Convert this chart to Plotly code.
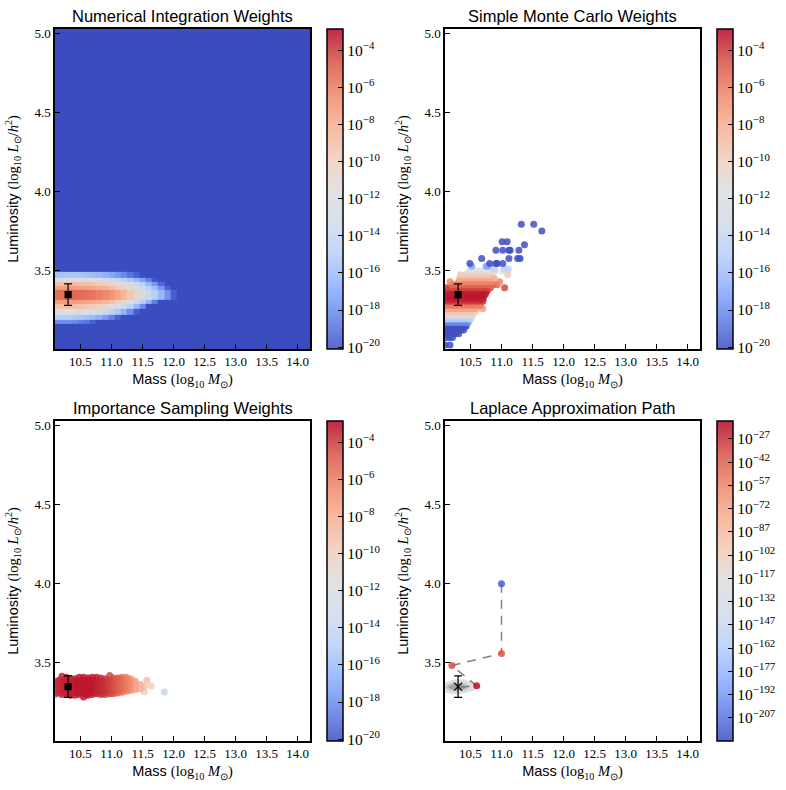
import plotly.graph_objects as go

W, H = 786, 790

TITLES = ["Numerical Integration Weights", "Simple Monte Carlo Weights",
          "Importance Sampling Weights", "Laplace Approximation Path"]
X_TICKS = [10.5, 11.0, 11.5, 12.0, 12.5, 13.0, 13.5, 14.0]
Y_TICKS = [3.5, 4.0, 4.5, 5.0]
WEIGHT_TICKS = [-4, -6, -8, -10, -12, -14, -16, -18, -20]
PATH_TICKS = [-27, -42, -57, -72, -87, -102, -117, -132, -147, -162, -177, -192, -207]
TRUE_MASS, TRUE_LUM, TRUE_ERR = 10.3, 3.35, 0.068

# Numerical integration grid (log10 weight)
GRID_MASS_EDGES = [10.05, 10.15, 10.25, 10.35, 10.45, 10.55, 10.65, 10.75, 10.85, 10.95, 11.05,
                   11.15, 11.25, 11.35, 11.45, 11.55, 11.65, 11.75, 11.85, 11.95, 12.05, 14.3]
GRID_LUM_EDGES = [3.0, 3.163, 3.19, 3.222, 3.26, 3.289, 3.315, 3.378, 3.403, 3.428, 3.454, 3.492, 5.05]
GRID_BG = -20.5
GRID_ROWS = [
    [],
    [-17.8, -17.8, -17.9, -18.1, -18.4, -18.8, -19.4],
    [-15, -15, -15, -15.2, -15.4, -15.7, -16.1, -16.7, -17.4, -18.3, -19.4],
    [-11.6, -11.5, -11.5, -11.6, -11.8, -12, -12.4, -12.9, -13.5, -14.3, -15.3, -16.5, -17.9, -19.6],
    [-9.2, -9.1, -9.1, -9.2, -9.3, -9.5, -9.8, -10.2, -10.8, -11.5, -12.4, -13.5, -14.8, -16.3, -18, -20.2],
    [-7.4, -7.3, -7.3, -7.3, -7.4, -7.6, -7.8, -8.1, -8.6, -9.2, -10, -10.9, -12, -13.2, -14.6, -16.4, -18.5],
    [-5.6, -5.5, -5.4, -5.4, -5.5, -5.6, -5.8, -6.1, -6.5, -7.0, -7.7, -8.5, -9.6, -10.8, -12.2, -13.6, -14.9, -16.2, -17.8, -19.5],
    [-7.6, -7.5, -7.4, -7.4, -7.5, -7.6, -7.8, -8.1, -8.5, -9, -9.6, -10.3, -11.2, -12.2, -13.4, -14.6, -16, -17.6, -19.4],
    [-9.2, -9.1, -9, -9, -9.1, -9.2, -9.5, -9.8, -10.2, -10.7, -11.3, -12, -12.8, -13.8, -14.9, -16.2, -17.6, -19.2],
    [-11.8, -11.7, -11.6, -11.6, -11.7, -11.9, -12.1, -12.4, -12.8, -13.3, -13.9, -14.6, -15.4, -16.3, -17.3, -18.5, -19.8],
    [-15.6, -15.5, -15.4, -15.4, -15.5, -15.7, -15.9, -16.2, -16.6, -17, -17.5, -18.1, -18.8, -19.5],
    [],
]

# Simple Monte Carlo samples, grouped as (log10 weight, luminosity, masses)
MC_GROUPS = [
    (-20, 3.032, [10.09, 10.17]),
    (-20, 3.078, [10.11, 10.16, 10.21]),
    (-20, 3.102, [10.1, 10.15, 10.2, 10.26, 10.31]),
    (-20, 3.126, [10.11, 10.17, 10.23, 10.29, 10.35, 10.39]),
    (-20, 3.15, [10.1, 10.16, 10.22, 10.28, 10.34, 10.4, 10.43]),
    (-18, 3.174, [10.12, 10.18, 10.24, 10.3, 10.36, 10.42, 10.46]),
    (-15, 3.195, [10.1, 10.16, 10.22, 10.28, 10.34, 10.4, 10.46, 10.5]),
    (-12, 3.215, [10.12, 10.18, 10.25, 10.32, 10.39, 10.46, 10.53]),
    (-9.5, 3.238, [10.1, 10.16, 10.23, 10.3, 10.37, 10.44, 10.51, 10.57]),
    (-7.5, 3.26, [10.11, 10.18, 10.25, 10.32, 10.39, 10.46, 10.53, 10.6, 10.7]),
    (-5.8, 3.283, [10.1, 10.17, 10.24, 10.31, 10.38, 10.45, 10.52, 10.59, 10.66]),
    (-4.0, 3.308, [10.1, 10.16, 10.22, 10.28, 10.34, 10.4, 10.46, 10.52, 10.58, 10.64, 10.7]),
    (-3.6, 3.32, [10.13, 10.2, 10.27, 10.34, 10.41, 10.48, 10.55, 10.62, 10.69]),
    (-3.4, 3.33, [10.11, 10.17, 10.23, 10.29, 10.35, 10.41, 10.47, 10.53, 10.59, 10.65, 10.71]),
    (-3.3, 3.342, [10.14, 10.2, 10.26, 10.32, 10.38, 10.44, 10.5, 10.56, 10.62, 10.68]),
    (-3.3, 3.352, [10.1, 10.16, 10.22, 10.28, 10.34, 10.4, 10.46, 10.52, 10.58, 10.64, 10.7, 10.74]),
    (-3.3, 3.363, [10.13, 10.19, 10.25, 10.31, 10.37, 10.43, 10.49, 10.55, 10.61, 10.67, 10.73]),
    (-3.4, 3.373, [10.11, 10.17, 10.23, 10.29, 10.35, 10.41, 10.47, 10.53, 10.59, 10.65, 10.71, 10.77]),
    (-4.3, 3.393, [10.1, 10.16, 10.22, 10.28, 10.34, 10.4, 10.46, 10.52, 10.58, 10.64, 10.7, 10.76, 10.82, 11.05]),
    (-5.3, 3.412, [10.21, 10.27, 10.33, 10.39, 10.45, 10.51, 10.57, 10.63, 10.69, 10.75, 10.81, 10.87, 10.93]),
    (-6.4, 3.432, [10.17, 10.31, 10.37, 10.43, 10.49, 10.55, 10.61, 10.67, 10.73, 10.79, 10.85, 10.97]),
    (-8, 3.455, [10.33, 10.4, 10.47, 10.54, 10.61, 10.68, 10.75, 10.82, 10.88]),
    (-9.5, 3.475, [10.34, 10.42, 10.5, 10.58, 10.66, 10.74, 10.82, 11.1]),
    (-11.5, 3.5, [10.48, 10.56, 10.64, 10.72, 10.8, 10.9, 11.02]),
    (-14.5, 3.512, [10.88, 11.05, 11.11]),
    (-17, 3.53, [10.52, 10.75, 10.78]),
    (-20, 3.546, [10.49, 10.81, 10.91, 10.93, 11.02]),
    (-20, 3.578, [10.68, 11.12, 11.26, 11.3]),
    (-20, 3.63, [10.91, 11.02, 11.12, 11.14, 11.28]),
    (-20, 3.665, [11.37]),
    (-20, 3.685, [11.01, 11.09]),
    (-20, 3.753, [11.65]),
    (-20, 3.795, [11.32, 11.52]),
]

# Importance sampling samples, grouped as (log10 weight, mass, luminosities)
IS_GROUPS = [
    (-18, 10.09, [3.3, 3.37]),
    (-14, 11.85, [3.316]),
    (-10, 11.64, [3.354]),
    (-10, 11.53, [3.318]),
    (-9, 11.57, [3.39]),
    (-9, 11.53, [3.35]),
    (-8.3, 11.46, [3.365, 3.335]),
    (-7.5, 11.38, [3.33, 3.36, 3.385]),
    (-7, 11.31, [3.325, 3.35, 3.375, 3.4]),
    (-6.6, 11.275, [3.335, 3.36, 3.385]),
    (-6.3, 11.24, [3.32, 3.345, 3.37, 3.395, 3.41]),
    (-6, 11.205, [3.33, 3.355, 3.38, 3.4]),
    (-5.8, 11.17, [3.315, 3.34, 3.365, 3.39, 3.41]),
    (-5.5, 11.135, [3.325, 3.35, 3.375, 3.4]),
    (-5.2, 11.1, [3.31, 3.335, 3.36, 3.385, 3.405]),
    (-5, 11.065, [3.32, 3.345, 3.37, 3.395]),
    (-4.8, 11.03, [3.305, 3.33, 3.355, 3.38, 3.405]),
    (-4.6, 11.0, [3.315, 3.34, 3.365, 3.39]),
    (-4.4, 10.97, [3.305, 3.33, 3.355, 3.38, 3.42]),
    (-4.2, 10.935, [3.315, 3.34, 3.365, 3.39]),
    (-4.1, 10.9, [3.3, 3.325, 3.35, 3.375, 3.4]),
    (-3.9, 10.865, [3.31, 3.335, 3.36, 3.385]),
    (-3.8, 10.83, [3.3, 3.325, 3.35, 3.375, 3.405]),
    (-3.7, 10.795, [3.315, 3.34, 3.365, 3.39]),
    (-3.6, 10.76, [3.305, 3.33, 3.355, 3.38, 3.41]),
    (-3.5, 10.725, [3.315, 3.34, 3.365, 3.39]),
    (-3.4, 10.69, [3.3, 3.325, 3.35, 3.375, 3.41]),
    (-3.3, 10.655, [3.31, 3.335, 3.36, 3.39]),
    (-3.3, 10.62, [3.295, 3.32, 3.345, 3.37, 3.405]),
    (-3.3, 10.585, [3.3, 3.325, 3.35, 3.39]),
    (-3.3, 10.55, [3.285, 3.31, 3.335, 3.36, 3.385, 3.41]),
    (-3.3, 10.515, [3.315, 3.34, 3.365, 3.39]),
    (-3.3, 10.48, [3.3, 3.325, 3.35, 3.375, 3.41]),
    (-3.3, 10.445, [3.31, 3.335, 3.36, 3.385]),
    (-3.3, 10.41, [3.295, 3.32, 3.345, 3.37, 3.4]),
    (-3.3, 10.375, [3.31, 3.335, 3.36, 3.385]),
    (-3.4, 10.34, [3.295, 3.32, 3.345, 3.37, 3.4]),
    (-3.4, 10.305, [3.31, 3.335, 3.36, 3.385]),
    (-3.4, 10.27, [3.3, 3.325, 3.35, 3.375, 3.41]),
    (-3.5, 10.235, [3.31, 3.335, 3.36, 3.39]),
    (-3.6, 10.2, [3.3, 3.325, 3.35, 3.375, 3.415]),
    (-3.6, 10.165, [3.315, 3.34, 3.365, 3.39]),
    (-3.7, 10.13, [3.31, 3.335, 3.36, 3.385]),
]

# Laplace approximation path
PATH_MASS = [11.0, 11.0, 10.2, 10.6, 10.29]
PATH_LUM = [4.0, 3.56, 3.483, 3.355, 3.346]
PATH_LOGW = [-215, -38, -36, -18]
CONTOUR_OUTER_MASS = [10.0, 10.1, 10.22, 10.38, 10.54, 10.62, 10.54, 10.38, 10.22, 10.1, 10.0]
CONTOUR_OUTER_LUM = [3.345, 3.378, 3.395, 3.396, 3.378, 3.35, 3.322, 3.307, 3.3, 3.312, 3.345]
CONTOUR_MID_MASS = [10.08, 10.15, 10.28, 10.41, 10.5, 10.41, 10.28, 10.15, 10.08]
CONTOUR_MID_LUM = [3.347, 3.367, 3.378, 3.372, 3.348, 3.325, 3.317, 3.327, 3.347]
CONTOUR_INNER_MASS = [10.13, 10.2, 10.29, 10.38, 10.45, 10.38, 10.29, 10.2, 10.13]
CONTOUR_INNER_LUM = [3.347, 3.363, 3.369, 3.362, 3.347, 3.331, 3.325, 3.331, 3.347]

COOLWARM = ["#3b4cc0", "#6282ea", "#8db0fe", "#b7cff9", "#d1dae9", "#dddddd",
            "#f2cbb7", "#f7ac8e", "#ee8468", "#d65244", "#b40426"]


def rgba(hex_color, alpha):
    r, g, b = (int(hex_color[i:i + 2], 16) for i in (1, 3, 5))
    return f"rgba({r},{g},{b},{alpha})"


SOLID_SCALE = [[i / 10, c] for i, c in enumerate(COOLWARM)]
ALPHA_SCALE = [[i / 10, rgba(c, 0.85)] for i, c in enumerate(COOLWARM)]

SERIF = "Liberation Serif"
SANS = "Liberation Sans"
XMIN, XMAX, YMIN, YMAX = 10.089, 14.2, 3.006, 5.03
WMIN, WMAX = -20.1, -2.85
PMIN, PMAX = -222.0, -15.4

PANELS = [(55, 29), (445, 29), (55, 421), (445, 421)]
PANEL_W, PANEL_H = 255, 320
CB_GAP, CB_W = 17, 16

XTITLE = f'Mass <span style="font-family:{SERIF}">(log<sub>10</sub> <i>M</i><sub>⊙</sub>)</span>'
YTITLE = f'Luminosity <span style="font-family:{SERIF}">(log<sub>10</sub> <i>L</i><sub>⊙</sub>/<i>h</i><sup>2</sup>)</span>'


def power_text(v):
    return f"10<sup>−{abs(v)}</sup>"


def colorbar(i, ticks):
    px, py = PANELS[i]
    return dict(
        x=(px + PANEL_W + CB_GAP) / W, xanchor="left", xpad=0,
        y=1 - (py + PANEL_H / 2) / H, yanchor="middle", ypad=0,
        len=PANEL_H / H, lenmode="fraction", thickness=CB_W, thicknessmode="pixels",
        outlinecolor="black", outlinewidth=1.5,
        ticks="inside", ticklen=5, tickcolor="black", tickwidth=1,
        tickmode="array", tickvals=ticks, ticktext=[power_text(t) for t in ticks],
        tickfont=dict(family=SERIF, size=15.5, color="black"), ticklabelposition="outside",
    )


fig = go.Figure()


def ax(i):
    return (f"x{i + 1}" if i else "x"), (f"y{i + 1}" if i else "y")


def add_samples(i, mass, lum, logw):
    xa, ya = ax(i)
    fig.add_trace(go.Scatter(
        x=mass, y=lum, mode="markers", xaxis=xa, yaxis=ya, showlegend=False,
        marker=dict(size=7, color=logw, colorscale=ALPHA_SCALE, cmin=WMIN, cmax=WMAX,
                    line=dict(width=0), colorbar=colorbar(i, WEIGHT_TICKS)),
    ))


def add_truth(i, symbol, size):
    xa, ya = ax(i)
    fig.add_trace(go.Scatter(
        x=[TRUE_MASS], y=[TRUE_LUM], mode="markers", xaxis=xa, yaxis=ya, showlegend=False,
        error_y=dict(type="data", array=[TRUE_ERR], color="black", thickness=1.2, width=4),
        marker=dict(symbol=symbol, size=size, color="black", line=dict(color="black", width=1.2)),
    ))


# Panel 1
grid_z = [row + [GRID_BG] * (len(GRID_MASS_EDGES) - 1 - len(row)) for row in GRID_ROWS]
fig.add_trace(go.Heatmap(x=GRID_MASS_EDGES, y=GRID_LUM_EDGES, z=grid_z, zmin=WMIN, zmax=WMAX,
                         colorscale=SOLID_SCALE, showscale=False, xaxis="x", yaxis="y",
                         hoverinfo="skip"))
fig.add_trace(go.Scatter(x=[None], y=[None], mode="markers", xaxis="x", yaxis="y", showlegend=False,
                         marker=dict(color=[WMIN], colorscale=ALPHA_SCALE, cmin=WMIN, cmax=WMAX,
                                     colorbar=colorbar(0, WEIGHT_TICKS))))
add_truth(0, "square", 6)

# Panel 2
mc_mass, mc_lum, mc_logw = [], [], []
for w, l, masses in MC_GROUPS:
    for m in masses:
        mc_mass.append(m)
        mc_lum.append(l)
        mc_logw.append(w)
add_samples(1, mc_mass, mc_lum, mc_logw)
add_truth(1, "square", 6)

# Panel 3
is_mass, is_lum, is_logw = [], [], []
for w, m, lums in IS_GROUPS:
    for l in lums:
        is_mass.append(m)
        is_lum.append(l)
        is_logw.append(w)
add_samples(2, is_mass, is_lum, is_logw)
add_truth(2, "square", 6)

# Panel 4
for xs, ys, col in [(CONTOUR_OUTER_MASS, CONTOUR_OUTER_LUM, "#dedede"),
                    (CONTOUR_MID_MASS, CONTOUR_MID_LUM, "#c8c8c8"),
                    (CONTOUR_INNER_MASS, CONTOUR_INNER_LUM, "#a0a0a0")]:
    fig.add_trace(go.Scatter(x=xs, y=ys, mode="lines", fill="toself", fillcolor=col, xaxis="x4", yaxis="y4",
                             line=dict(width=0, color=col), showlegend=False, hoverinfo="skip"))
fig.add_trace(go.Scatter(x=PATH_MASS, y=PATH_LUM, mode="lines", xaxis="x4", yaxis="y4", showlegend=False,
                         line=dict(color="#808080", width=1.5, dash="9px,7px")))
fig.add_trace(go.Scatter(
    x=PATH_MASS[:4], y=PATH_LUM[:4], mode="markers", xaxis="x4", yaxis="y4", showlegend=False,
    marker=dict(size=7, color=PATH_LOGW, colorscale=ALPHA_SCALE, cmin=PMIN, cmax=PMAX,
                line=dict(width=0), colorbar=colorbar(3, PATH_TICKS)),
))
add_truth(3, "x-thin", 8)

layout = dict(width=W, height=H, autosize=False, margin=dict(l=0, r=0, t=0, b=0, autoexpand=False),
              paper_bgcolor="white", plot_bgcolor="white", showlegend=False,
              font=dict(family=SANS, color="black"))
annotations = []
for i, (px, py) in enumerate(PANELS):
    sx = f"xaxis{i + 1}" if i else "xaxis"
    sy = f"yaxis{i + 1}" if i else "yaxis"
    xa, ya = ax(i)
    common = dict(showgrid=False, zeroline=False, showline=True, linecolor="black", linewidth=1.5,
                  mirror=True, ticks="inside", ticklen=5, tickwidth=1, tickcolor="black",
                  tickfont=dict(family=SERIF, size=13, color="black"), tickmode="array", automargin=False)
    layout[sx] = dict(common, domain=[px / W, (px + PANEL_W) / W], range=[XMIN, XMAX], anchor=ya,
                      tickvals=X_TICKS, ticktext=[f"{v:.1f}" for v in X_TICKS],
                      title=dict(text=XTITLE, font=dict(family=SANS, size=14.5, color="black"), standoff=6))
    layout[sy] = dict(common, domain=[1 - (py + PANEL_H) / H, 1 - py / H], range=[YMIN, YMAX], anchor=xa,
                      tickvals=Y_TICKS, ticktext=[f"{v:.1f}" for v in Y_TICKS],
                      title=dict(text=YTITLE, font=dict(family=SANS, size=14.5, color="black"), standoff=12))
    annotations.append(dict(text=TITLES[i], xref="paper", yref="paper", x=(px + PANEL_W / 2) / W,
                            y=1 - (py - 2) / H, xanchor="center", yanchor="bottom", showarrow=False,
                            font=dict(family=SANS, size=16.5, color="black")))
layout["annotations"] = annotations
fig.update_layout(**layout)
fig.write_html("out.html", config={"displayModeBar": False},
               post_script="document.body.style.margin='0';")
